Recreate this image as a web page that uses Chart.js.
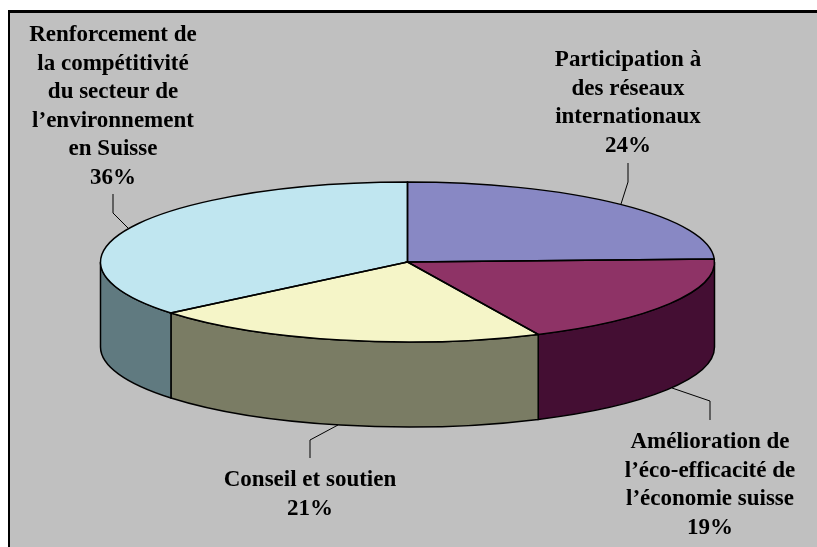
<!DOCTYPE html>
<html lang="fr">
<head>
<meta charset="utf-8">
<title>Répartition</title>
<script src="https://cdn.jsdelivr.net/npm/chart.js@4"></script>
<style>
    html, body { margin: 0; padding: 0; background: #fff; overflow: hidden; }
    canvas { display: block; }
</style>
</head>
<body>
<canvas id="pieChart" width="817" height="547"></canvas>
<script>
// Chart data
const categories = [
    ['Participation à', 'des réseaux', 'internationaux'],
    ['Amélioration de', 'l’éco-efficacité de', 'l’économie suisse'],
    ['Conseil et soutien'],
    ['Renforcement de', 'la compétitivité', 'du secteur de', 'l’environnement', 'en Suisse']
];
const values = [24.4, 18.6, 21, 36];

// Colours of the top face and of the side wall
const topColors = ['#8888C4', '#8E3366', '#F5F5C8', '#C0E6F0'];
const sideColors = ['#44446A', '#440E33', '#7A7C64', '#607A80'];

// Where each label goes: centre x, first baseline, leader line
const labelLayout = [
    { x: 628, y: 66, leader: [[628, 163], [628, 182], [621, 204]] },
    { x: 710, y: 448, leader: [[710, 420], [710, 401], [672, 388]] },
    { x: 310, y: 486, leader: [[310, 458], [310, 440], [338, 425]] },
    { x: 113, y: 41, leader: [[113, 194], [113, 213], [128, 228]] }
];

const RX = 307;
const RY = 80;
const DEPTH = 85;
const SQUASH = RY / RX;
const LINE_HEIGHT = 28.6;

// Grey plot background with the black edge on the top and left
const backgroundPlugin = {
    id: 'background',
    beforeDraw(chart) {
        const ctx = chart.ctx;
        ctx.save();
        ctx.fillStyle = '#000';
        ctx.fillRect(8, 10, 809, 537);
        ctx.fillStyle = '#C0C0C0';
        ctx.fillRect(10, 13, 807, 534);
        ctx.restore();
    }
};

// Flatten the pie into an ellipse and give it a side wall
function squash(ctx, arc) {
    ctx.translate(arc.x, arc.y);
    ctx.scale(1, SQUASH);
    ctx.translate(-arc.x, -arc.y);
}

const tiltPlugin = {
    id: 'tilt',
    beforeDatasetsDraw(chart) {
        const ctx = chart.ctx;
        const arcs = chart.getDatasetMeta(0).data;

        arcs.forEach((arc, i) => {
            const start = Math.max(arc.startAngle, 0);
            const end = Math.min(arc.endAngle, Math.PI);
            if (end <= start) return;

            ctx.save();
            squash(ctx, arc);
            ctx.beginPath();
            ctx.arc(arc.x, arc.y, arc.outerRadius, start, end);
            ctx.arc(arc.x, arc.y + DEPTH / SQUASH, arc.outerRadius, end, start, true);
            ctx.closePath();
            ctx.restore();
            ctx.fillStyle = sideColors[i];
            ctx.fill();
            ctx.strokeStyle = '#000';
            ctx.lineWidth = 1.5;
            ctx.stroke();
        });

        ctx.save();
        squash(ctx, arcs[0]);
    },
    afterDatasetsDraw(chart) {
        const ctx = chart.ctx;
        const arcs = chart.getDatasetMeta(0).data;
        ctx.restore();

        arcs.forEach(arc => {
            ctx.save();
            squash(ctx, arc);
            ctx.beginPath();
            ctx.moveTo(arc.x, arc.y);
            ctx.arc(arc.x, arc.y, arc.outerRadius, arc.startAngle, arc.endAngle);
            ctx.closePath();
            ctx.restore();
            ctx.strokeStyle = '#000';
            ctx.lineWidth = 1.5;
            ctx.stroke();
        });
    }
};

// Labels and their leader lines
const labelPlugin = {
    id: 'labels',
    afterDraw(chart) {
        const ctx = chart.ctx;
        ctx.save();
        ctx.font = 'bold 23px "Liberation Serif"';
        ctx.textAlign = 'center';
        ctx.textBaseline = 'alphabetic';
        ctx.fillStyle = '#000';
        ctx.strokeStyle = '#000';
        ctx.lineWidth = 1;

        labelLayout.forEach((label, i) => {
            const lines = categories[i].concat(Math.round(values[i]) + '%');
            lines.forEach((line, n) => {
                ctx.fillText(line, label.x, label.y + n * LINE_HEIGHT);
            });

            ctx.beginPath();
            label.leader.forEach((p, n) => {
                if (n === 0) ctx.moveTo(p[0], p[1]);
                else ctx.lineTo(p[0], p[1]);
            });
            ctx.stroke();
        });
        ctx.restore();
    }
};

new Chart(document.getElementById('pieChart').getContext('2d'), {
    type: 'pie',
    data: {
        labels: categories.map(c => c.join(' ')),
        datasets: [{
            data: values,
            backgroundColor: topColors,
            borderWidth: 0,
            radius: RX,
            clip: false
        }]
    },
    options: {
        responsive: false,
        animation: false,
        events: [],
        layout: { padding: { right: 2, bottom: 23 } },
        plugins: {
            legend: { display: false },
            tooltip: { enabled: false }
        }
    },
    plugins: [backgroundPlugin, tiltPlugin, labelPlugin]
});
</script>
</body>
</html>
